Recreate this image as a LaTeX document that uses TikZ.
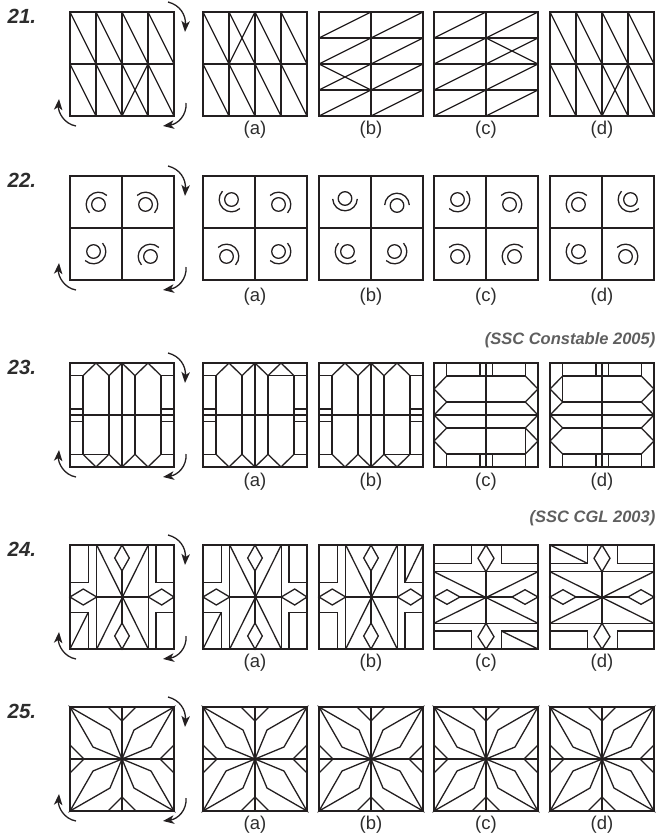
\documentclass[tikz,border=0pt]{standalone}
\usepackage{fontspec}
\setmainfont{Liberation Sans}
\usetikzlibrary{arrows.meta}
\definecolor{InkBlack}{RGB}{35,31,32}
\definecolor{NumGray}{RGB}{45,45,45}
\definecolor{SrcGray}{RGB}{95,95,95}
\newcommand{\figbox}[3]{%
  \begin{scope}[xshift=#1pt,yshift=-#2pt]
    #3
    \draw (0,0) rectangle (104,104);
  \end{scope}}
\newcommand{\figboxT}[3]{%
  \begin{scope}[xshift=#1pt,yshift=-#2pt,cm={0,-1,-1,0,(0,0)}]
    #3
    \draw (0,0) rectangle (104,104);
  \end{scope}}
\newcommand{\turnarrows}[2]{%
  \begin{scope}[xshift=#1pt,yshift=-#2pt]
    \draw[turn] (98,-10) .. controls (110,-7) and (116,3) .. (115,20);
    \draw[turn] (116,91) .. controls (117,103) and (108,112) .. (93,114);
    \draw[turn] (6,114) .. controls (-6,112) and (-12,100) .. (-11,87);
  \end{scope}}
\newcommand{\tallcells}[2]{%
  \draw (0,52) -- (104,52);
  \foreach \c in {1,2,3} {\draw (26*\c,0) -- (26*\c,104);}
  \foreach \c in {0,...,3} {\foreach \r in {0,1} {\draw (26*\c,52*\r) -- ++(26,52);}}
  \draw (26*#1+26,52*#2) -- ++(-26,52);}
\newcommand{\widecells}[2]{%
  \draw (52,0) -- (52,104);
  \foreach \r in {1,2,3} {\draw (0,26*\r) -- (104,26*\r);}
  \foreach \c in {0,1} {\foreach \r in {0,...,3} {\draw (52*\c,26*\r+26) -- ++(52,-26);}}
  \draw (52*#1,26*#2) -- ++(52,26);}
\newcommand{\swirl}[3]{%
  \draw ([shift={(#3+180:3.5pt)}]#1,#2) circle[radius=6.8pt];
  \draw ([shift={(#3+180:3.5pt)},shift={(#3-88:12.3pt)}]#1,#2)
    arc[start angle=#3-88,end angle=#3+88,radius=12.3pt];}
\newcommand{\swirls}[4]{%
  \draw (52,0) -- (52,104) (0,52) -- (104,52);
  \swirl{26}{26}{#1}\swirl{78}{26}{#2}\swirl{26}{78}{#3}\swirl{78}{78}{#4}}
\newcommand{\hexbars}[2]{%
  \draw (0,52) -- (104,52) (52,0) -- (52,104);
  \foreach \h in {12.7,46,58.7,91.3} {\draw (0,\h) -- (13,\h) (91,\h) -- (104,\h);}
  \foreach \v in {13,39,65,91} {\draw (\v,12.7) -- (\v,91.3);}
  \draw (13,12.7) -- (26,0) -- (39,12.7) -- (52,0) -- (65,12.7) -- (78,0) -- (91,12.7);
  \draw (13,91.3) -- (26,104) -- (39,91.3) -- (52,104) -- (65,91.3) -- (78,104) -- (91,91.3);
  \draw (#1,#2) -- ++(26,0);}
\newcommand{\gemcross}[4]{%
  \draw (26.7,0) -- (26.7,104) (78.3,0) -- (78.3,104);
  \draw (18.3,0) |- (0,37.3) (18.3,104) |- (0,67.3);
  \draw (86,0) |- (104,37.3) (86,104) |- (104,67.3);
  \draw (0,52) -- (13.3,44) -- (26.7,52) -- (13.3,60) -- cycle;
  \draw (78.3,52) -- (91.7,44) -- (104,52) -- (91.7,60) -- cycle;
  \draw (52,0) -- (44.7,13) -- (52,26) -- (59.3,13) -- cycle;
  \draw (52,78) -- (44.7,91) -- (52,104) -- (59.3,91) -- cycle;
  \draw (26.7,52) -- (78.3,52) (52,26) -- (52,78);
  \draw (26.7,0) -- (78.3,104) (78.3,0) -- (26.7,104);
  \draw (#1,#2) -- (#3,#4);}
\newcommand{\petals}{%
  \draw (52,0) -- (52,104) (0,52) -- (104,52);
  \draw (38,0) -- (52,14) -- (66,0) (38,104) -- (52,90) -- (66,104);
  \draw (0,38) -- (14,52) -- (0,66) (104,38) -- (90,52) -- (104,66);
  \draw (0,0) -- (40,23) -- (52,52) -- (23,40) -- cycle;
  \draw (104,0) -- (64,23) -- (52,52) -- (81,40) -- cycle;
  \draw (0,104) -- (23,64) -- (52,52) -- (40,81) -- cycle;
  \draw (104,104) -- (81,64) -- (52,52) -- (64,81) -- cycle;}

\begin{document}
\begin{tikzpicture}[x=1pt,y=-1pt,line width=1.3pt,color=InkBlack,
  turn/.style={-{Stealth[length=11pt,width=8.5pt,inset=3pt]}},
  qnum/.style={NumGray,inner sep=0pt,anchor=base west,font=\fontsize{20.5}{22}\selectfont\bfseries\itshape},
  optlabel/.style={NumGray,inner sep=0pt,font=\fontsize{18.5}{20}\selectfont},
  source/.style={SrcGray,inner sep=0pt,anchor=east,font=\fontsize{16.5}{18}\selectfont\bfseries\itshape}]
  \useasboundingbox (0,0) rectangle (661,838);

  \figbox{70}{12}{\tallcells{2}{1}}
  \figbox{203}{12}{\tallcells{1}{0}}
  \figbox{319}{12}{\widecells{0}{2}}
  \figbox{434}{12}{\widecells{1}{1}}
  \figbox{550}{12}{\tallcells{2}{1}}

  \figbox{70}{176}{\swirls{135}{45}{-45}{135}}
  \figbox{203}{176}{\swirls{-135}{45}{45}{-45}}
  \figbox{319}{176}{\swirls{-90}{90}{-135}{-45}}
  \figbox{434}{176}{\swirls{-45}{45}{45}{135}}
  \figbox{550}{176}{\swirls{135}{-135}{-135}{45}}

  \figbox{70}{363}{\hexbars{13}{91.3}}
  \figbox{203}{363}{\hexbars{65}{12.7}}
  \figbox{319}{363}{\hexbars{65}{91.3}}
  \figboxT{434}{363}{\hexbars{65}{91.3}}
  \figboxT{550}{363}{\hexbars{13}{12.7}}

  \figbox{70}{545}{\gemcross{0}{104}{18.3}{67.3}}
  \figbox{203}{545}{\gemcross{0}{104}{18.3}{67.3}}
  \figbox{319}{545}{\gemcross{86}{37.3}{104}{0}}
  \figboxT{434}{545}{\gemcross{86}{67.3}{104}{104}}
  \figboxT{550}{545}{\gemcross{0}{0}{18.3}{37.3}}

  \foreach \xx in {70,203,319,434,550} {\figbox{\xx}{707}{\petals}}

  \foreach \ty in {12,176,363,545,707} {\turnarrows{70}{\ty}}

  \foreach \row/\ty in {21/12,22/176,23/363,24/545,25/707} {
    \node[qnum] (num\row) at (7,\ty+11) {\row.};}
  \foreach \row/\ly in {21/129.5,22/296.5,23/481.5,24/663,25/825} {
    \foreach \opt/\xx in {a/203,b/319,c/434,d/550} {
      \node[optlabel] (lab\row\opt) at (\xx+52,\ly) {(\opt)};}}

  \node[source] (src23) at (656,340) {(SSC Constable 2005)};
  \node[source] (src24) at (656,518) {(SSC CGL 2003)};
\end{tikzpicture}
\end{document}
